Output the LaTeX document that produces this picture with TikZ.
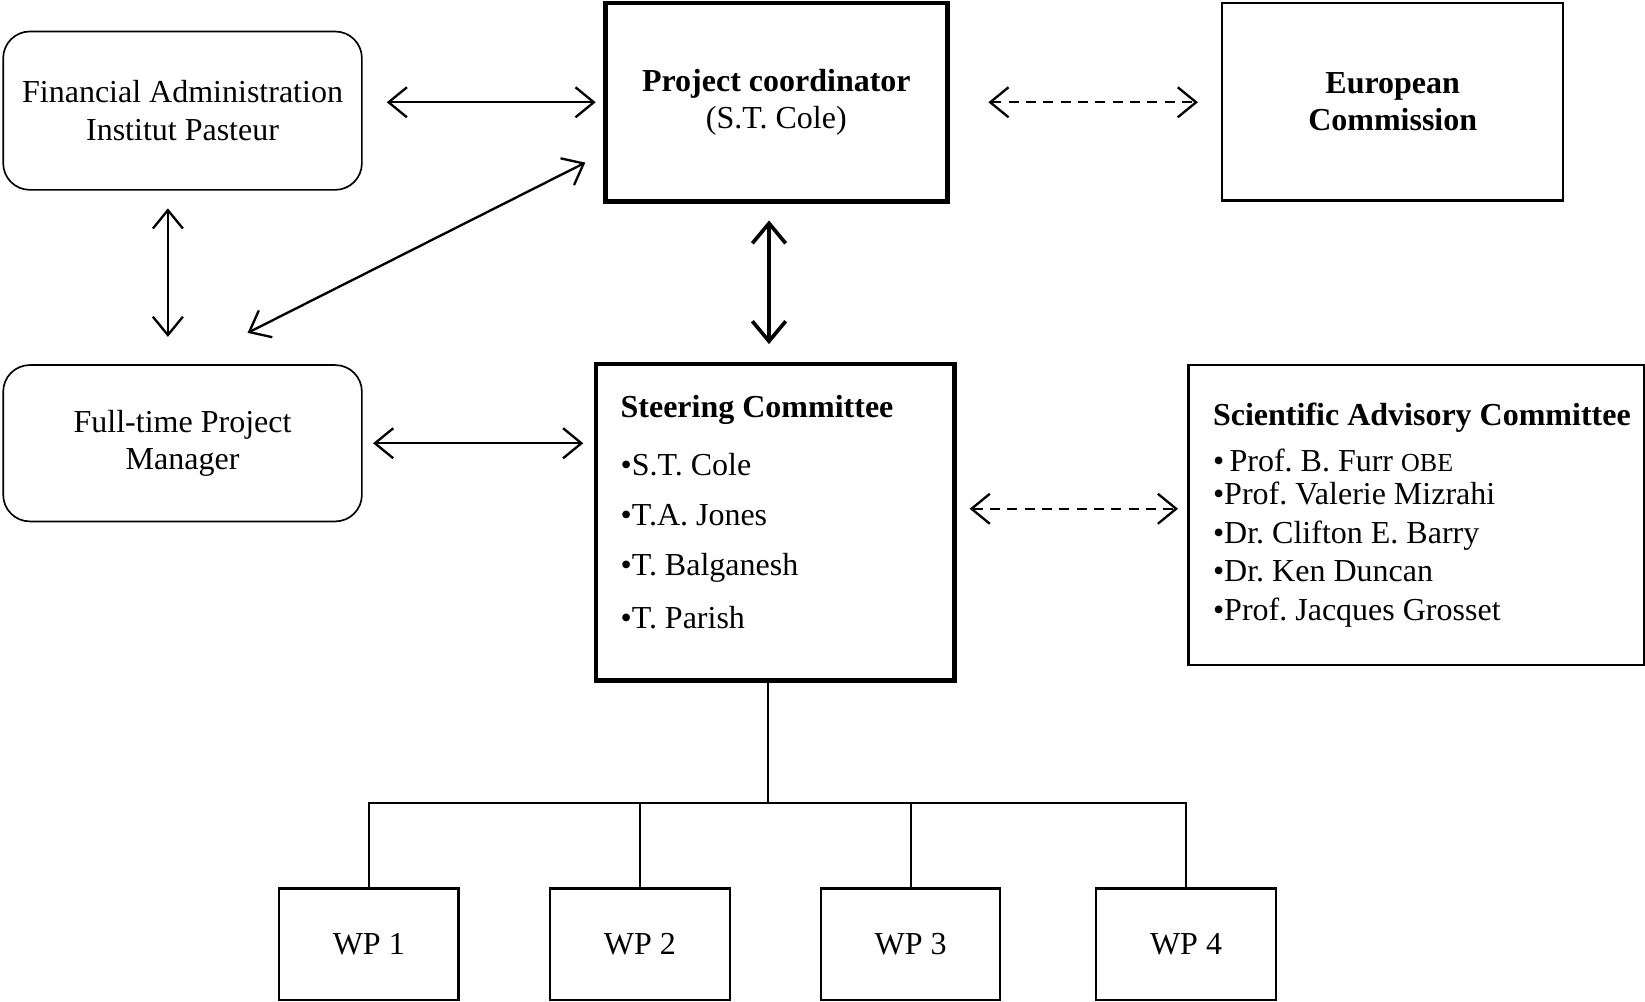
\documentclass[tikz,border=0pt]{standalone}
\usepackage{fontspec}
\setmainfont{Liberation Serif}
\usetikzlibrary{arrows.meta,positioning}
\frenchspacing
\newcommand{\blt}{\textbullet}
\tikzset{
  rbox/.style={draw, rectangle, rounded corners=8pt, align=center, line width=0.5pt, minimum width=107.6pt, font=\fontsize{9.6}{11.3}\selectfont},
  tbox/.style={draw, rectangle, align=center, line width=1.4pt, font=\fontsize{9.6}{11.3}\selectfont},
  pbox/.style={draw, rectangle, align=center, line width=0.75pt, font=\fontsize{9.6}{11.3}\selectfont},
  wpbox/.style={draw, rectangle, align=center, line width=0.65pt, minimum width=53.8pt, minimum height=33.4pt, font=\fontsize{9.6}{11.3}\selectfont},
  lst/.style={align=left, inner sep=0pt, font=\fontsize{9.6}{11.3}\selectfont},
  arr/.style={{Straight Barb[length=5.5pt,width=9pt]}-{Straight Barb[length=5.5pt,width=9pt]}, line width=0.7pt},
  darr/.style={arr, dash pattern=on 3pt off 2.2pt},
  barr/.style={{Straight Barb[length=6pt,width=10pt]}-{Straight Barb[length=6pt,width=10pt]}, line width=1.1pt},
  link/.style={line width=0.55pt},
}

\begin{document}
\begin{tikzpicture}[x=0.3147pt, y=-0.3147pt]
\useasboundingbox (0,0) rectangle (1568,955);
\node[rbox, minimum height=47.5pt] (fin) at (174,105.5) {Financial Administration\\Institut Pasteur};
\node[tbox, minimum width=102.6pt, minimum height=59.5pt] (pc) at (740,97.5) {\textbf{Project coordinator}\\(S.T. Cole)};
\node[pbox, minimum width=102.3pt, minimum height=59.2pt] (ec) at (1327.5,97) {\textbf{European}\\\textbf{Commission}};
\node[rbox, minimum height=46.9pt] (pm) at (174,422.5) {Full-time Project\\Manager};
\node[tbox, minimum width=107.6pt, minimum height=95pt] (sc) at (739,498) {};
\node[lst, anchor=west] (sclist) at ([xshift=7.9pt,yshift=3.1pt]sc.west) {\textbf{Steering Committee}\\[6.3pt]\blt S.T. Cole\\[3.6pt]\blt T.A. Jones\\[3.8pt]\blt T. Balganesh\\[4.6pt]\blt T. Parish};
\node[pbox, minimum width=136.6pt, minimum height=90pt] (sac) at (1350,491) {};
\node[lst, anchor=west] (saclist) at ([xshift=7.5pt]sac.west) {\textbf{Scientific Advisory Committee}\\[2.5pt]\blt\,Prof. B. Furr {\fontsize{7.8}{9}\selectfont OBE}\\[-1.3pt]\blt Prof. Valerie Mizrahi\\[0.3pt]\blt Dr. Clifton E. Barry\\[0.3pt]\blt Dr. Ken Duncan\\[0.3pt]\blt Prof. Jacques Grosset};
\node[wpbox] (wp1) at (351.5,900) {WP 1};
\node[wpbox] (wp2) at (610,900) {WP 2};
\node[wpbox] (wp3) at (868,900) {WP 3};
\node[wpbox] (wp4) at (1130.5,900) {WP 4};
\draw[arr, shorten <=7.2pt, shorten >=2.2pt] (fin.east |- pc.west) -- (pc.west);
\draw[darr, shorten <=11.6pt, shorten >=6.9pt] (pc.east) -- (pc.east -| ec.west);
\draw[arr, shorten <=5.3pt, shorten >=8.2pt] ([xshift=-4.4pt]fin.south) -- ([xshift=-4.4pt]pm.north);
\draw[arr] ([xshift=19.5pt,yshift=9.4pt]pm.north) -- ([xshift=-5.3pt,yshift=-18.1pt]pc.west);
\draw[barr, shorten <=5pt, shorten >=5.3pt] ([xshift=-2.2pt]pc.south) -- ([xshift=-2.2pt]pc.south |- sc.north);
\draw[arr, shorten <=3.1pt, shorten >=3.1pt] (pm.east) -- (pm.east -| sc.west);
\draw[darr, shorten <=3.8pt, shorten >=2.8pt] ([yshift=4.1pt]sc.east) -- ([yshift=4.1pt]sc.east -| sac.west);
\coordinate (bus) at ([xshift=-2.2pt,yshift=-35.9pt]sc.south);
\draw[link] ([xshift=-2.2pt]sc.south) -- (bus);
\draw[link] (wp1.north) |- (bus) -| (wp4.north);
\draw[link] (wp2.north) -- (wp2.north |- bus);
\draw[link] (wp3.north) -- (wp3.north |- bus);
\end{tikzpicture}
\end{document}
